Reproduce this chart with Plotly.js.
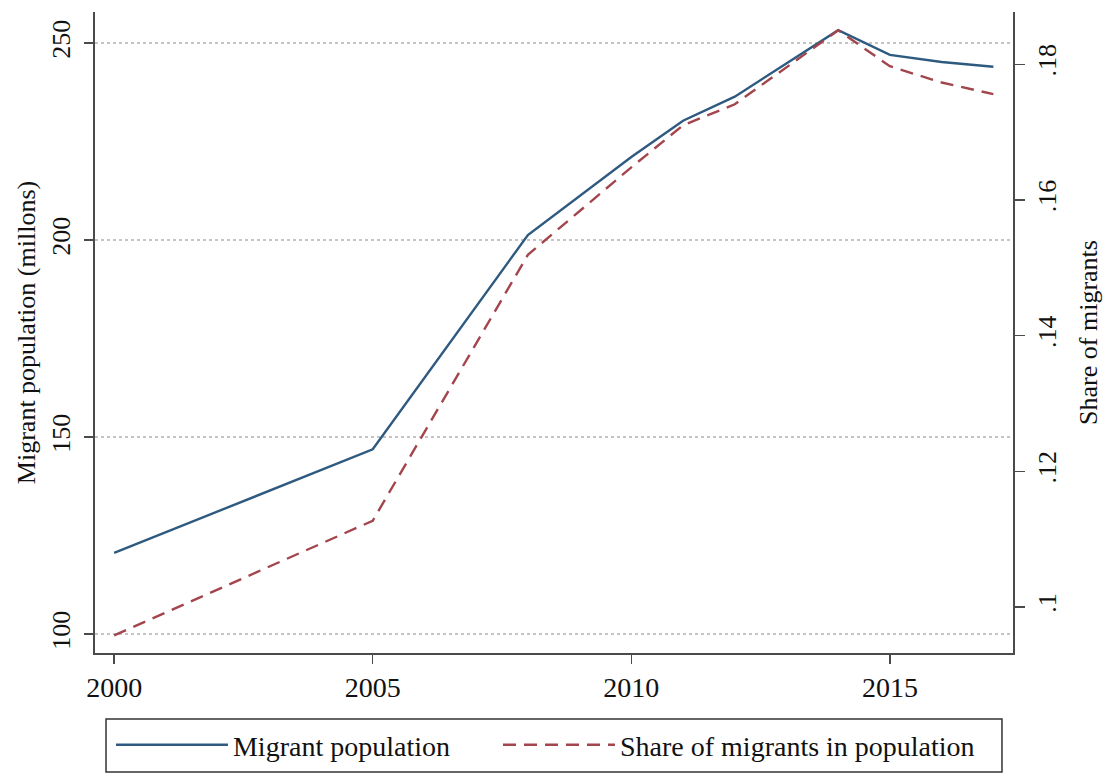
<!DOCTYPE html>
<html>
<head>
<meta charset="utf-8">
<script src="https://cdn.plot.ly/plotly-3.0.1.min.js"></script>
<style>
  html, body { margin: 0; padding: 0; background: #fff; }
  #chart { width: 1109px; height: 773px; }
</style>
</head>
<body>
<div id="chart"></div>
<script>
// Data
const years = [2000, 2005, 2008, 2010, 2011, 2012, 2014, 2015, 2016, 2017];
const migrantPopulation = [120.6, 146.9, 201.3, 221.1, 230.3, 236.4, 253.3, 247.0, 245.2, 244.0];
const migrantShare = [0.0958, 0.1127, 0.1519, 0.1648, 0.1710, 0.1741, 0.1850, 0.1797, 0.1773, 0.1756];

const xTicks = [2000, 2005, 2010, 2015];
const leftTicks = [100, 150, 200, 250];
const rightTicks = [0.10, 0.12, 0.14, 0.16, 0.18];
const rightTickText = ['.1', '.12', '.14', '.16', '.18'];

const seriesNames = ['Migrant population', 'Share of migrants in population'];
const axisTitles = ['Migrant population (millons)', 'Share of migrants'];

const font = 'Liberation Serif, Times New Roman, serif';
const txt = '#111111';
const axisCol = '#4a4a4a';

const traces = [
  {
    x: years, y: migrantPopulation, name: seriesNames[0],
    type: 'scatter', mode: 'lines', yaxis: 'y', legend: 'legend',
    line: { color: '#2e5a80', width: 2.4 }
  },
  {
    x: years, y: migrantShare, name: seriesNames[1],
    type: 'scatter', mode: 'lines', yaxis: 'y2', legend: 'legend2',
    line: { color: '#a3454c', width: 2.4, dash: '13px,8px' }
  }
];

const legendCommon = {
  orientation: 'h', xanchor: 'left', y: -0.1045, yanchor: 'top',
  borderwidth: 0, bgcolor: 'rgba(0,0,0,0)',
  font: { family: font, size: 28, color: txt },
  itemwidth: 112
};

const layout = {
  width: 1109, height: 773,
  margin: { l: 95, r: 96, t: 12, b: 120, autoexpand: false },
  paper_bgcolor: '#ffffff', plot_bgcolor: '#ffffff',
  font: { family: font, color: txt, size: 26 },
  showlegend: true,
  legend: Object.assign({}, legendCommon, { x: 0.0174 }),
  legend2: Object.assign({}, legendCommon, { x: 0.439 }),
  shapes: [
    {
      type: 'rect', xref: 'paper', yref: 'paper',
      x0: 0.012, x1: 0.988, y0: -0.1856, y1: -0.103,
      line: { color: '#333333', width: 1.5 }, fillcolor: 'rgba(0,0,0,0)'
    }
  ],
  xaxis: {
    range: [1999.63, 2017.38], tickvals: xTicks,
    showgrid: false, zeroline: false,
    showline: true, linecolor: axisCol, linewidth: 1.8,
    ticks: 'outside', ticklen: 9, tickwidth: 1.4, tickcolor: axisCol,
    tickfont: { family: font, size: 28, color: txt }
  },
  yaxis: {
    range: [95.2, 257.9], tickvals: leftTicks,
    tickangle: -90, ticklabelstandoff: 4,
    showgrid: true, gridcolor: '#c4c4c4', griddash: 'dot', gridwidth: 1.6,
    zeroline: false,
    showline: true, linecolor: axisCol, linewidth: 1.8,
    ticks: 'outside', ticklen: 9, tickwidth: 1.4, tickcolor: axisCol,
    tickfont: { family: font, size: 26, color: txt },
    title: { text: axisTitles[0], font: { family: font, size: 26, color: txt }, standoff: 4 }
  },
  yaxis2: {
    overlaying: 'y', side: 'right',
    range: [0.0932, 0.1877], tickvals: rightTicks, ticktext: rightTickText,
    tickangle: -90,
    showgrid: false, zeroline: false,
    showline: true, linecolor: axisCol, linewidth: 1.8,
    ticks: 'outside', ticklen: 10, tickwidth: 1.4, tickcolor: axisCol,
    tickfont: { family: font, size: 26, color: txt },
    title: { text: axisTitles[1], font: { family: font, size: 26, color: txt }, standoff: 18 }
  }
};

Plotly.newPlot('chart', traces, layout, { displayModeBar: false, staticPlot: true });
</script>
</body>
</html>
